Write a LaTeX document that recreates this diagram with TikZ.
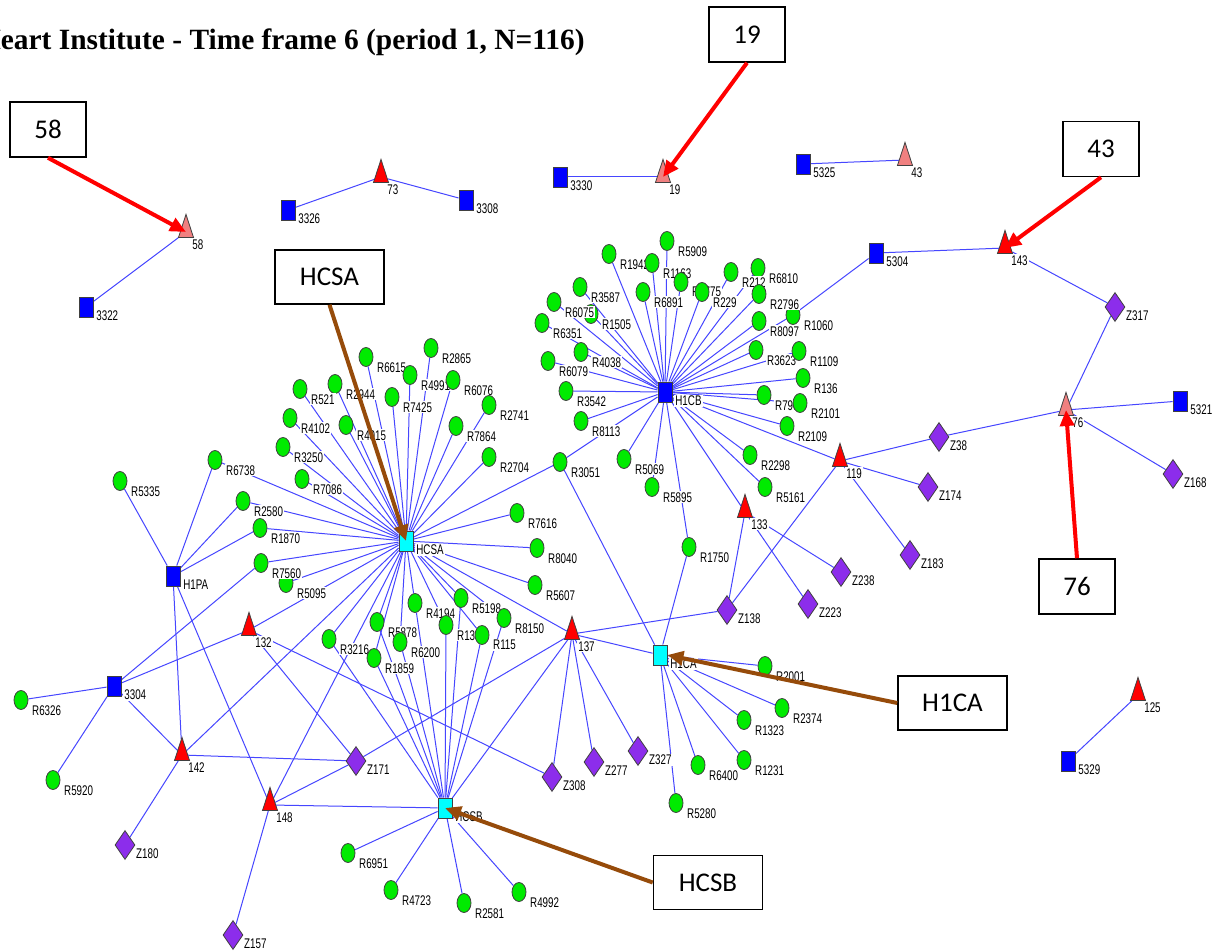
\documentclass[tikz,border=0pt]{standalone}
\usepackage{fontspec}
\usepackage{tikz}
\usetikzlibrary{shapes.geometric, arrows.meta, backgrounds}
\newfontfamily\lblfont[FakeStretch=0.7]{Liberation Sans}
\newfontfamily\annfont{Carlito}
\newfontfamily\ttlfont{Liberation Serif}
\definecolor{nodegreen}{RGB}{0,235,0}
\definecolor{nodeblue}{RGB}{0,0,255}
\definecolor{nodecyan}{RGB}{0,255,255}
\definecolor{nodered}{RGB}{255,0,0}
\definecolor{nodesalmon}{RGB}{240,128,128}
\definecolor{nodeviolet}{RGB}{140,45,235}
\definecolor{edgeblue}{RGB}{70,70,255}
\definecolor{arrowbrown}{RGB}{150,75,10}
\tikzset{
  lbl/.style={font=\lblfont\fontsize{7pt}{7pt}\selectfont, inner sep=0.5pt, fill=white, anchor=north west},
  rnode/.style={ellipse, draw=black!75, line width=0.4pt, fill=nodegreen, minimum width=7pt, minimum height=9.5pt, inner sep=0pt, label={[lbl, xshift=1.5pt]-30:#1}},
  hnode/.style={rectangle, draw=black!75, line width=0.4pt, fill=nodeblue, minimum width=7pt, minimum height=10pt, inner sep=0pt, label={[lbl, xshift=0.8pt]-20:#1}},
  cnode/.style={hnode=#1, fill=nodecyan},
  tnode/.style={isosceles triangle, shape border rotate=90, isosceles triangle stretches, draw=black!75, line width=0.4pt, fill=nodered, minimum width=7.5pt, minimum height=11.5pt, inner sep=0pt, label={[lbl]-50:#1}},
  snode/.style={tnode=#1, fill=nodesalmon},
  znode/.style={diamond, draw=black!75, line width=0.4pt, fill=nodeviolet, minimum width=10pt, minimum height=14.5pt, inner sep=0pt, label={[lbl, xshift=0.5pt]-15:#1}},
  link/.style={draw=edgeblue, line width=0.5pt},
  annbox/.style={rectangle, draw=black, line width=0.8pt, fill=white, inner sep=0pt, minimum width=38pt, minimum height=27.5pt, font=\annfont\fontsize{13.5pt}{13.5pt}\selectfont},
  redarrow/.style={draw=nodered, line width=2pt, -{Triangle[length=8pt, width=7pt]}},
  brownarrow/.style={draw=arrowbrown, line width=2pt, -{Triangle[length=8pt, width=7pt]}}
}

\begin{document}
\begin{tikzpicture}[x=0.5pt, y=-0.5pt]
    \useasboundingbox (0,0) rectangle (1216,952);
    \begin{scope}[on background layer]
        \fill[white] (0,0) rectangle (1216,952);
    \end{scope}

    % title, cut at the left edge
    \node (title) [anchor=base east, inner sep=0pt, font=\ttlfont\bfseries\fontsize{14.7pt}{14.7pt}\selectfont] at (585,50) {Heart Institute - Time frame 6 (period 1, N=116)};

    % R nodes
    \foreach \n/\x/\y in {R5909/667/241, R1942/609/254, R1163/652/263, R6891/643/292, R1775/681/282, R229/702/292,
        R6810/758/268, R212/731/272, R1060/793/315, R2796/759/294, R8097/759/321, R3623/756/350, R1109/799/351,
        R136/803/378, R790/764/395, R2101/800/403, R2109/787/426, R2298/750/455, R5161/765/487, R3542/566/391,
        R8113/581/421, R6079/548/361, R4038/581/352, R6351/542/323, R1505/591/314, R6075/554/302, R3587/580/287,
        R5069/624/459, R5895/652/487, R1750/689/547, R3051/560/462}
        \node (\n) [rnode=\n] at (\x,\y) {};
    \foreach \n/\x/\y in {R2865/431/348, R6615/366/357, R4991/410/375, R6076/453/380, R2944/335/384, R521/300/389,
        R7425/392/397, R2741/489/405, R4102/290/418, R4015/346/425, R7864/456/426, R3250/283/447, R2704/489/457,
        R7086/302/479, R7616/517/513, R8040/537/548, R5607/535/585, R2580/243/501, R1870/260/528, R5095/286/583,
        R7560/261/563, R6738/215/460, R5335/120/481}
        \node (\n) [rnode=\n] at (\x,\y) {};
    \foreach \n/\x/\y in {R4194/415/603, R5198/461/598, R5878/377/622, R3216/329/639, R1396/446/625, R8150/504/618,
        R6200/400/642, R115/482/635, R1859/374/658, R6951/348/853, R4723/391/890, R2581/464/903, R4992/519/892,
        R2001/765/666, R2374/782/708, R1323/744/720, R1231/744/760, R6400/698/765, R5280/676/803,
        R6326/21/700, R5920/53/780}
        \node (\n) [rnode=\n] at (\x,\y) {};

    % hubs and other squares
    \foreach \n/\x/\y in {3322/86/307, 3326/288/210, 3308/466/200, 3330/560/177, 5325/803/164, 5304/876/253,
        5321/1180/401, 5329/1068/761, 3304/114/686}
        \node (s\n) [hnode=\n] at (\x,\y) {};
    \node (H1CB) [hnode=H1CB] at (665,392) {};
    \node (H1PA) [hnode=H1PA] at (173,576) {};
    \node (HCSA) [cnode=HCSA] at (406,541) {};
    \node (HCSB) [cnode=HCSB] at (445,808) {};
    \node (H1CA) [cnode=H1CA] at (660,655) {};

    % triangles
    \foreach \n/\x/\y in {58/186/232, 19/663/177, 43/905/160, 76/1066/410}
        \node (t\n) [snode=\n] at (\x,\y) {};
    \foreach \n/\x/\y in {73/381/177, 143/1005/248, 119/840/461, 133/745/512, 137/572/634, 132/249/630,
        142/182/755, 148/270/805, 125/1138/695}
        \node (t\n) [tnode=\n] at (\x,\y) {};

    % diamonds
    \foreach \n/\x/\y in {Z317/1115/307, Z38/939/437, Z168/1173/474, Z174/928/487, Z183/910/555, Z238/841/572,
        Z223/808/604, Z138/727/610, Z327/638/751, Z277/594/762, Z308/552/777, Z171/356/761, Z180/125/845,
        Z157/233/935}
        \node (\n) [znode=\n] at (\x,\y) {};

    % ties
    \begin{scope}[on background layer]
        \foreach \a/\b in {s3322/t58, s3326/t73, t73/s3308, s3330/t19, s5325/t43, s5329/t125, t143/s5304,
            s5304/R1060, t143/Z317, Z317/t76, t76/s5321, t76/Z38, t76/Z168, Z38/t119, t119/Z174, t119/Z183,
            t119/Z138, t133/Z138, t133/Z238, t133/Z223, t137/Z138, t137/H1CA, t137/Z171, t137/Z308, t137/Z277,
            t137/Z327, t132/Z171, t132/Z308, t142/Z180, t142/Z171, t148/Z157, t148/Z171, R1750/H1CA}
            \draw[link] (\a) -- (\b);
        \foreach \r in {R5909, R1942, R1163, R6891, R1775, R229, R212, R6810, R2796, R1060, R8097, R3623, R1109,
            R136, R790, R2101, R2109, R2298, R5161, R3542, R8113, R6079, R4038, R6351, R6075, R1505, R3587,
            R5069, R5895, R1750, R3051, t133, t119}
            \draw[link] (H1CB) -- (\r);
        \foreach \r in {R2865, R6615, R4991, R6076, R2944, R521, R7425, R2741, R4102, R4015, R7864, R3250,
            R2704, R7086, R7616, R8040, R5607, R2580, R1870, R7560, R5095, R6738, R3051, R4194, R5198, R5878,
            R3216, R1396, R8150, R6200, R115, R1859, t132, t142, t148, t137}
            \draw[link] (HCSA) -- (\r);
        \foreach \r in {R6951, R4723, R2581, R4992, R4194, R5198, R5878, R3216, R1396, R8150, R6200, R115,
            R1859, t148, t137}
            \draw[link] (HCSB) -- (\r);
        \foreach \r in {R2001, R2374, R1323, R1231, R6400, R5280, R3051}
            \draw[link] (H1CA) -- (\r);
        \foreach \r in {R5335, R6738, R2580, R1870, t142, t148}
            \draw[link] (H1PA) -- (\r);
        \foreach \r in {R6326, R5920, t142, t132, R7560}
            \draw[link] (s3304) -- (\r);
    \end{scope}

    % call-outs
    \node (b58) [annbox] at (48,129.5) {58};
    \node (b19) [annbox] at (747,34.5) {19};
    \node (b43) [annbox] at (1101,149) {43};
    \node (b76) [annbox] at (1077,586.5) {76};
    \node (bHCSA) [annbox, minimum width=54.5pt, minimum height=27pt] at (329.5,277) {HCSA};
    \node (bH1CA) [annbox, minimum width=54.5pt, minimum height=27pt] at (952.5,703) {H1CA};
    \node (bHCSB) [annbox, minimum width=54.5pt, minimum height=27pt] at (708,882.5) {HCSB};
    \draw[redarrow] (b58.south) -- (t58.center);
    \draw[redarrow] (b19.south) -- (t19.center);
    \draw[redarrow] (b43.south) -- (t143.center);
    \draw[redarrow] (b76.north) -- (t76.center);
    \draw[brownarrow] (bHCSA.south) -- (HCSA.center);
    \draw[brownarrow] (bH1CA.west) -- (H1CA.east);
    \draw[brownarrow] (bHCSB.west) -- (HCSB.center);
\end{tikzpicture}
\end{document}
